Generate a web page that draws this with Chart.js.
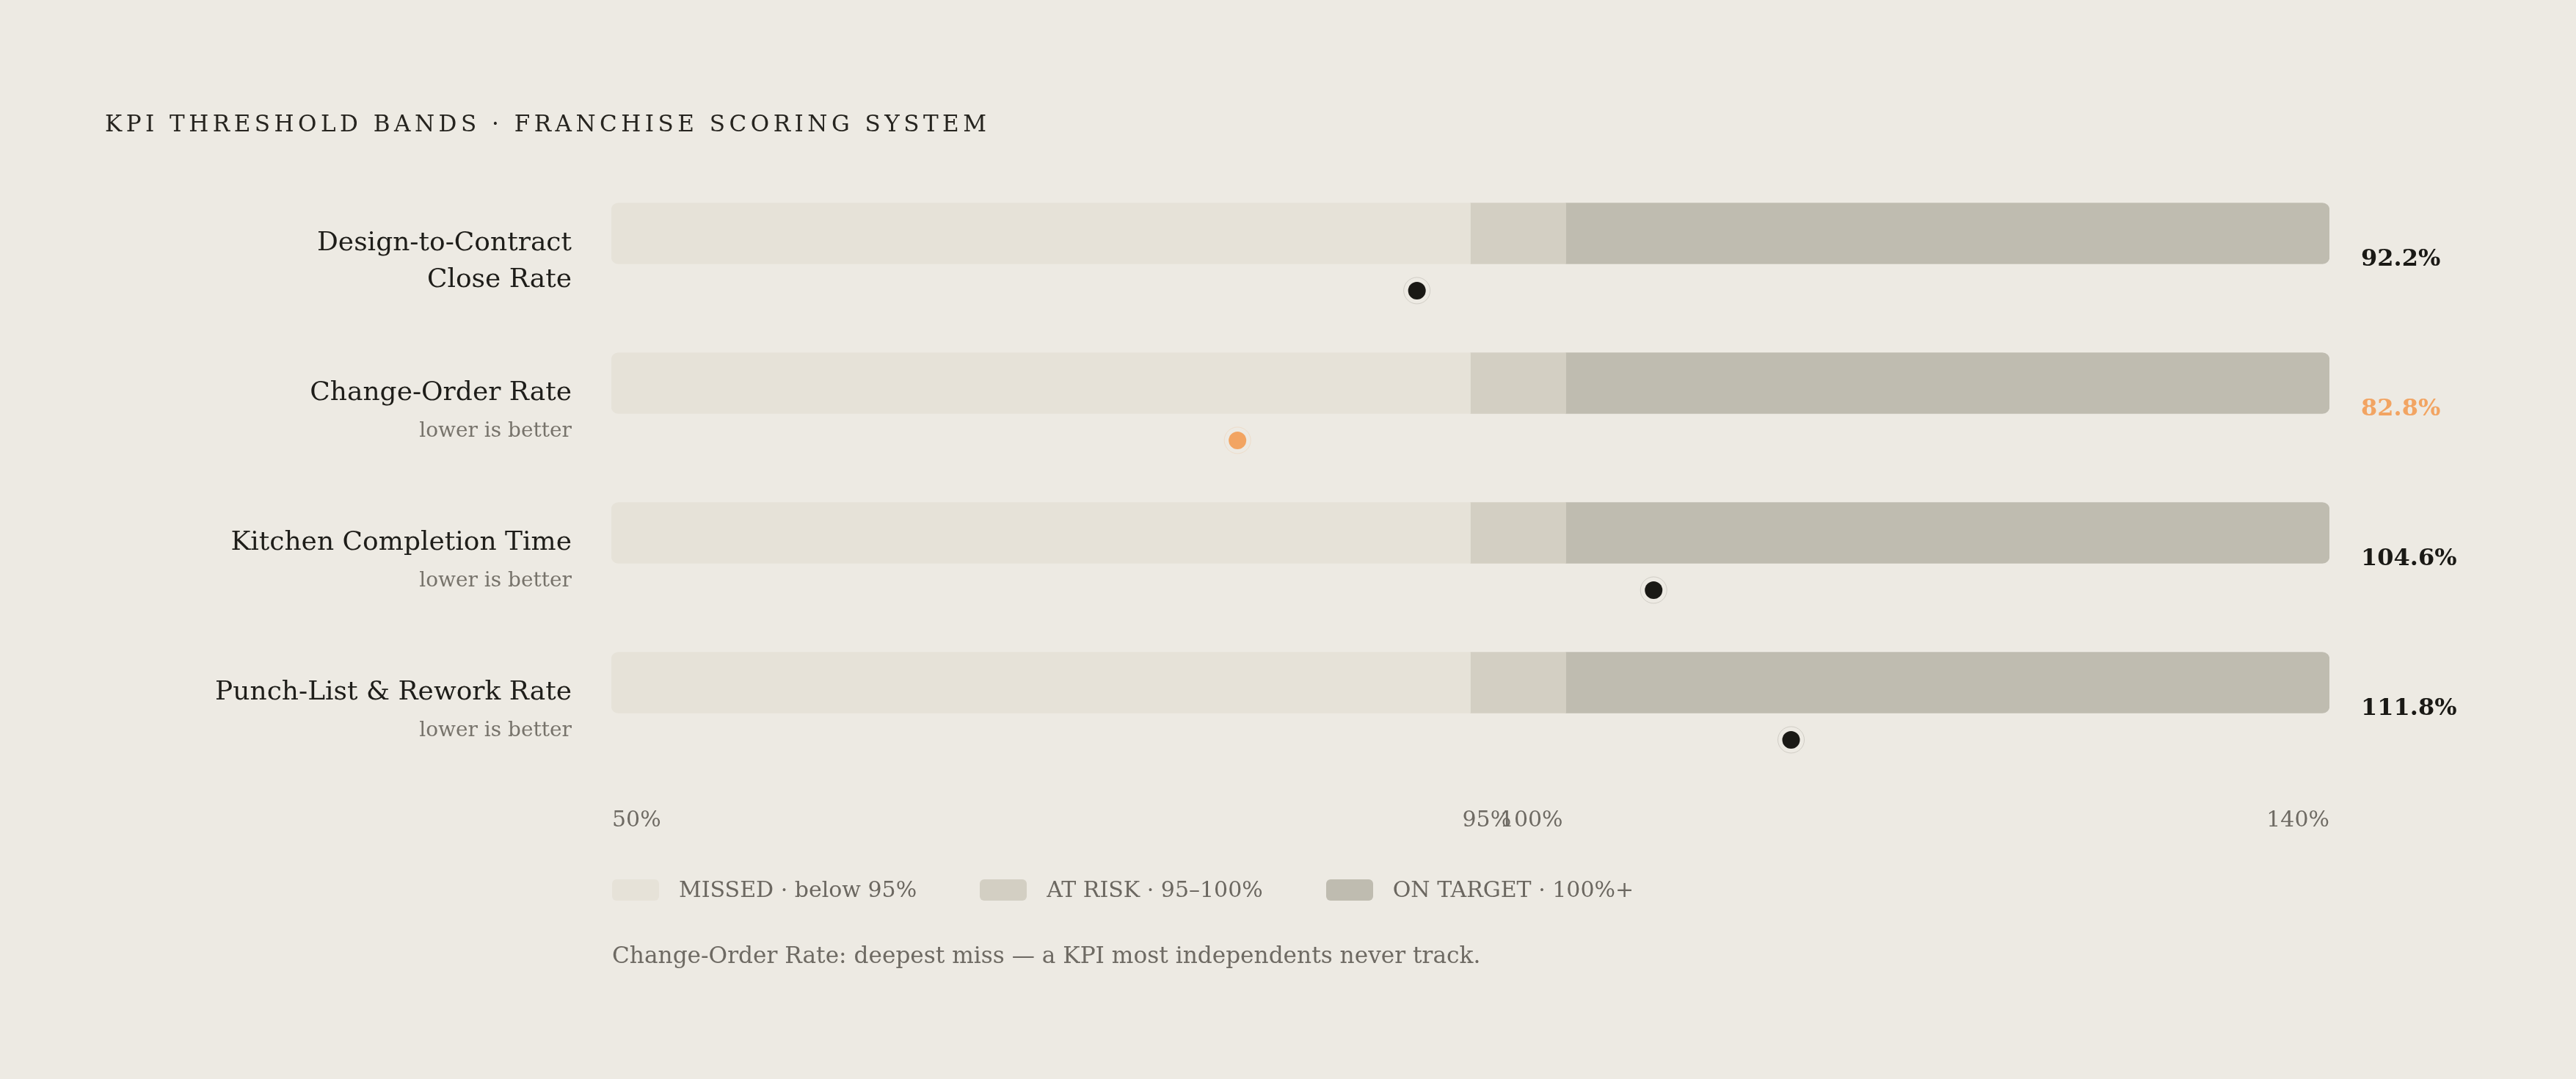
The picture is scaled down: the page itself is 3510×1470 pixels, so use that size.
<!DOCTYPE html>
<html>
<head>
<meta charset="utf-8">
<script src="https://cdn.jsdelivr.net/npm/chart.js@4.4.1/dist/chart.umd.min.js"></script>
<style>
    body { margin: 0; background: #EDEAE3; width: 3510px; height: 1470px; overflow: hidden; font-family: "DejaVu Serif", serif; }
    #wrap { position: relative; width: 3510px; height: 1470px; }
    #kpiChart { position: absolute; left: 0; top: 0; }
    .title { position: absolute; left: 143px; top: 153px; font-size: 31px; line-height: 31px; letter-spacing: 5.5px; color: #26241f; white-space: nowrap; }
    .legend { position: absolute; left: 834px; top: 1197px; display: flex; align-items: center; font-size: 30px; line-height: 30px; color: #6b6760; white-space: nowrap; }
    .legend .item { display: flex; align-items: center; margin-right: 86px; }
    .legend .sw { width: 64px; height: 29px; border-radius: 6px; margin-right: 27px; }
    .note { position: absolute; left: 834px; top: 1286px; font-size: 31.2px; line-height: 31px; color: #6e6a63; white-space: nowrap; }
</style>
</head>
<body>
<div id="wrap">
    <canvas id="kpiChart" width="3510" height="1470"></canvas>
    <div class="title">KPI THRESHOLD BANDS · FRANCHISE SCORING SYSTEM</div>
    <div class="legend" id="legend"></div>
    <div class="note">Change-Order Rate: deepest miss — a KPI most independents never track.</div>
</div>
<script>
// データ
const kpiNames = [
    ['Design-to-Contract', 'Close Rate'],
    ['Change-Order Rate'],
    ['Kitchen Completion Time'],
    ['Punch-List & Rework Rate']
];
const kpiNotes = ['', 'lower is better', 'lower is better', 'lower is better'];
const scores = [92.2, 82.8, 104.6, 111.8];
const bandMissed = [50, 95];
const bandAtRisk = [95, 100];
const bandOnTarget = [100, 140];
const tickValues = [50, 95, 100, 140];
const tickLabels = ['50%', '95%', '100%', '140%'];
const legendLabels = ['MISSED · below 95%', 'AT RISK · 95–100%', 'ON TARGET · 100%+'];
const highlightIndex = 1; // Change-Order Rate

// 色
const bg = '#EDEAE3';
const missedColor = '#E6E2D8';
const atRiskColor = '#D3CFC3';
const onTargetColor = '#BFBCB0';
const dotColor = '#1a1915';
const accent = '#F2A462';
const DOT_DROP = 0.382; // バーの中心から点までのずれ（行の割合）

// 凡例
const legendColors = [missedColor, atRiskColor, onTargetColor];
document.getElementById('legend').innerHTML = legendLabels.map((t, i) =>
    `<div class="item"><span class="sw" style="background:${legendColors[i]}"></span>${t}</div>`
).join('');

function bandData(band) {
    return kpiNames.map((n, i) => ({ x: band, y: i }));
}

// ラベル（左の名前・右の値・目盛り）
const kpiLabels = {
    id: 'kpiLabels',
    afterDatasetsDraw(chart) {
        const ctx = chart.ctx;
        const xs = chart.scales.x;
        const ys = chart.scales.y;
        const area = chart.chartArea;
        ctx.save();
        ctx.textBaseline = 'alphabetic';

        kpiNames.forEach((lines, i) => {
            const cy = ys.getPixelForValue(i);
            ctx.textAlign = 'right';
            ctx.fillStyle = '#1e1d19';
            ctx.font = '36px "DejaVu Serif"';
            ctx.fillText(lines[0], area.left - 54, cy + 23);
            if (lines[1]) {
                ctx.fillText(lines[1], area.left - 54, cy + 73);
            } else if (kpiNotes[i]) {
                ctx.fillStyle = '#77736b';
                ctx.font = '28px "DejaVu Serif"';
                ctx.fillText(kpiNotes[i], area.left - 54, cy + 73);
            }

            ctx.textAlign = 'left';
            ctx.fillStyle = i === highlightIndex ? accent : dotColor;
            ctx.font = 'bold 32px "DejaVu Serif"';
            ctx.fillText(scores[i].toFixed(1) + '%', area.right + 43, cy + 44);
        });

        ctx.fillStyle = '#6e6a63';
        ctx.font = '30px "DejaVu Serif"';
        tickValues.forEach((v, i) => {
            const px = xs.getPixelForValue(v);
            if (v === xs.min) {
                ctx.textAlign = 'left';
                ctx.fillText(tickLabels[i], px + 1, 1126);
            } else if (v === xs.max) {
                ctx.textAlign = 'right';
                ctx.fillText(tickLabels[i], px, 1126);
            } else if (v < 100) {
                ctx.textAlign = 'left';
                ctx.fillText(tickLabels[i], px - 11, 1126);
            } else {
                ctx.textAlign = 'right';
                ctx.fillText(tickLabels[i], px - 4, 1126);
            }
        });
        ctx.restore();
    }
};

const ctx = document.getElementById('kpiChart').getContext('2d');
const kpiChart = new Chart(ctx, {
    type: 'bar',
    data: {
        datasets: [
            {
                type: 'scatter',
                data: scores.map((v, i) => ({ x: v, y: i + DOT_DROP })),
                pointRadius: 12,
                pointBorderWidth: 0,
                pointBackgroundColor: scores.map((v, i) => i === highlightIndex ? accent : dotColor),
                pointHoverRadius: 12
            },
            {
                type: 'scatter',
                data: scores.map((v, i) => ({ x: v, y: i + DOT_DROP })),
                pointRadius: 18,
                pointBorderWidth: 1,
                pointBackgroundColor: 'rgba(0,0,0,0)',
                pointBorderColor: scores.map((v, i) => i === highlightIndex ? 'rgba(242,164,98,0.2)' : 'rgba(110,105,95,0.22)')
            },
            {
                indexAxis: 'y',
                grouped: false,
                data: bandData(bandMissed),
                backgroundColor: missedColor,
                barThickness: 83,
                borderSkipped: false,
                borderRadius: { topLeft: 10, bottomLeft: 10, topRight: 0, bottomRight: 0 }
            },
            {
                indexAxis: 'y',
                grouped: false,
                data: bandData(bandAtRisk),
                backgroundColor: atRiskColor,
                barThickness: 83,
                borderSkipped: false,
                borderRadius: 0
            },
            {
                indexAxis: 'y',
                grouped: false,
                data: bandData(bandOnTarget),
                backgroundColor: onTargetColor,
                barThickness: 83,
                borderSkipped: false,
                borderRadius: { topLeft: 0, bottomLeft: 0, topRight: 10, bottomRight: 10 }
            }
        ]
    },
    options: {
        responsive: false,
        animation: false,
        devicePixelRatio: 1,
        layout: { padding: { left: 833, right: 336, top: 216, bottom: 438 }, autoPadding: false },
        scales: {
            x: { type: 'linear', min: 50, max: 140, offset: false, grid: { offset: false }, display: false },
            y: { type: 'linear', min: -0.5, max: 3.5, reverse: true, offset: false, grid: { offset: false }, display: false }
        },
        plugins: {
            legend: { display: false },
            tooltip: { enabled: false }
        }
    },
    plugins: [kpiLabels]
});
</script>
</body>
</html>
